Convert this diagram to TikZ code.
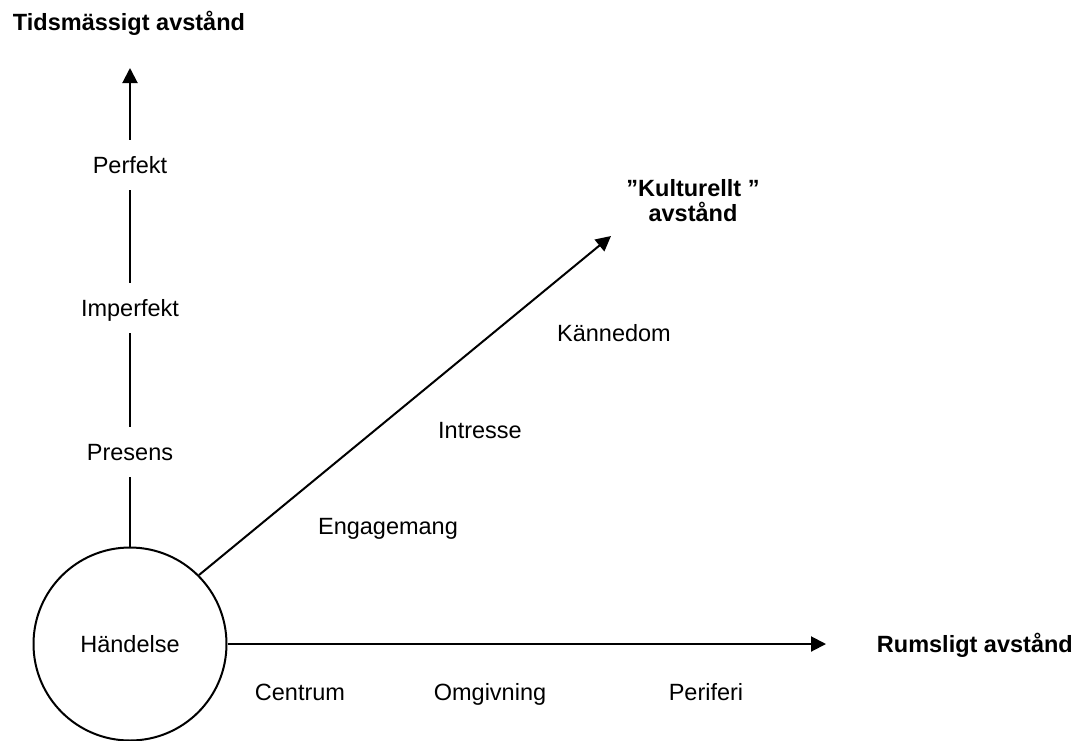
\documentclass[tikz,border=0pt]{standalone}
\usepackage{fontspec}
\setmainfont{Liberation Sans}
\usetikzlibrary{arrows.meta}
\begin{document}
\begin{tikzpicture}[x=1pt,y=-1pt,
  lbl/.style={font=\fontsize{23.5}{25}\selectfont, inner sep=0pt, text height=21pt, text depth=4pt},
  axlbl/.style={lbl, minimum height=50pt},
  ttl/.style={font=\fontsize{23.5}{25}\selectfont\bfseries, inner sep=0pt, align=center, text height=21pt, text depth=4pt},
  ax/.style={line width=2pt},
  axarrow/.style={ax, -{Triangle[length=15pt,width=15pt]}}]
\useasboundingbox (0,0) rectangle (1074,740);
\node[ttl] (ttime) at (129,22) {Tidsmässigt avstånd};
\node[ttl] (tcult) at (693,213) {”Kulturellt ”\\avstånd};
\node[ttl, anchor=east] (tspace) at (1073,644) {Rumsligt avstånd};
\node[draw, circle, line width=2pt, minimum size=193pt, inner sep=0pt, font=\fontsize{23.5}{25}\selectfont] (hand) at (130,644) {Händelse};
\node[axlbl] (perf) at (130,165) {Perfekt};
\node[axlbl] (imp) at (130,308) {Imperfekt};
\node[axlbl] (pres) at (130,452) {Presens};
\coordinate (ttip) at (130,68);
\coordinate (stip) at (826,644);
\coordinate (ctip) at (611,236);
\draw[axarrow] (perf.north) -- (ttip);
\draw[ax] (imp.north) -- (perf.south);
\draw[ax] (pres.north) -- (imp.south);
\draw[ax] (hand.north) -- (pres.south);
\draw[axarrow] (hand.east) -- (stip);
\draw[axarrow] (hand.45) -- (ctip);
\node[lbl] (kann) at (614,333) {Kännedom};
\node[lbl] (intr) at (480,430) {Intresse};
\node[lbl] (eng) at (388,526) {Engagemang};
\node[lbl] (cent) at (300,692) {Centrum};
\node[lbl] (omg) at (490,692) {Omgivning};
\node[lbl] (peri) at (706,692) {Periferi};
\end{tikzpicture}
\end{document}
